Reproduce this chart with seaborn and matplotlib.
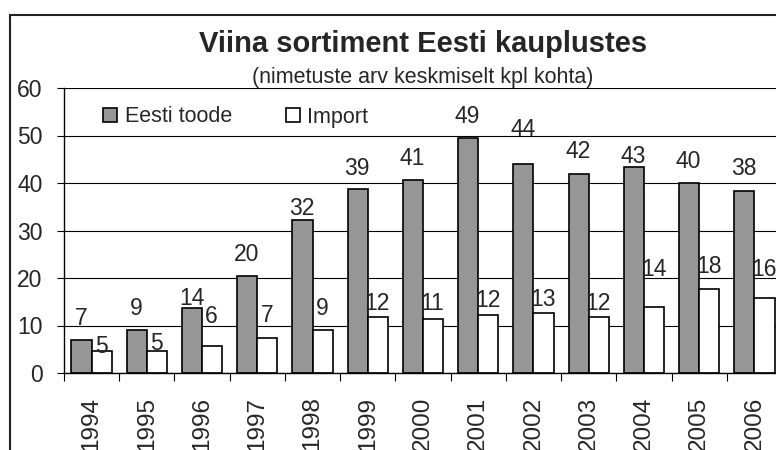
import pandas as pd
import matplotlib
matplotlib.use("Agg")
import matplotlib.pyplot as plt
import seaborn as sns
from matplotlib.patches import Rectangle

# -----------------------------
# Data
# -----------------------------
years = ["1994", "1995", "1996", "1997", "1998", "1999", "2000",
         "2001", "2002", "2003", "2004", "2005", "2006"]
eesti_toode = [7.0, 9.0, 13.7, 20.4, 32.2, 38.7, 40.6, 49.4, 44.1, 42.0, 43.4, 40.1, 38.4]
import_vals = [4.6, 4.6, 5.7, 7.4, 9.0, 11.7, 11.4, 12.3, 12.6, 11.7, 14.0, 17.6, 15.7]
series_names = ["Eesti toode", "Import"]

# label lift above bar tops (pixels), placed by hand in the original
lift_eesti = [15, 15, 3, 15, 5, 14, 15, 15, 28, 15, 4, 15, 16]
lift_import = [-2, 1, 23, 16, 15, 7, 9, 8, 7, 7, 30, 16, 22]

df = pd.DataFrame({
    "aasta": years * 2,
    "seeria": [series_names[0]] * len(years) + [series_names[1]] * len(years),
    "kpl": eesti_toode + import_vals,
})

# -----------------------------
# Style
# -----------------------------
sns.set_style("white")
plt.rcParams["font.family"] = ["Liberation Sans", "DejaVu Sans"]

fig = plt.figure(figsize=(7.76, 4.5), dpi=100)
ax = fig.add_axes([64 / 776, 77 / 450, 718 / 776, 285 / 450])

ax = sns.barplot(
    data=df, x="aasta", y="kpl", hue="seeria",
    hue_order=series_names,
    palette={"Eesti toode": "#969696", "Import": "white"},
    edgecolor="black", linewidth=1.2, width=0.73,
    saturation=1, ax=ax,
)

ax.set_xlim(-0.5, len(years) - 0.5)
ax.set_ylim(0, 60)
ax.set_yticks(range(0, 61, 10))
ax.set_xlabel("")
ax.set_ylabel("")

ax.yaxis.grid(True, color="black", linewidth=0.8)
ax.set_axisbelow(True)
for side in ["top", "right"]:
    ax.spines[side].set_visible(False)
for side in ["left", "bottom"]:
    ax.spines[side].set_color("black")
    ax.spines[side].set_linewidth(1.0)

ax.tick_params(axis="y", which="major", left=True, length=5, width=0.8,
               color="black", pad=10.5, labelsize=16.5)
ax.tick_params(axis="x", which="major", bottom=False, length=0,
               pad=17, labelsize=17.5, labelrotation=90)
ax.set_xticks([i - 0.5 for i in range(len(years) + 1)], minor=True)
ax.tick_params(axis="x", which="minor", bottom=True, length=6,
               width=0.8, color="black")

# data labels
for container, lifts in zip(ax.containers, [lift_eesti, lift_import]):
    for bar, lift in zip(container, lifts):
        h = bar.get_height()
        ax.annotate(f"{h:.0f}", (bar.get_x() + bar.get_width() / 2, h),
                    xytext=(-0.5, lift), textcoords="offset pixels",
                    ha="center", va="baseline", fontsize=16.5)

# legend
handles, labels = ax.get_legend_handles_labels()
ax.legend(handles, labels, loc="center left",
          bbox_to_anchor=(103 / 776, (450 - 117) / 450),
          bbox_transform=fig.transFigure, ncol=2, frameon=False,
          fontsize=15.5, handlelength=0.65, handleheight=0.65,
          handletextpad=0.35, columnspacing=2.5, borderpad=0,
          borderaxespad=0)

# titles
fig.text(423.5 / 776, (450 - 52) / 450, "Viina sortiment Eesti kauplustes",
         ha="center", va="baseline", fontsize=21, fontweight="bold")
fig.text(422.5 / 776, (450 - 83) / 450, "(nimetuste arv keskmiselt kpl kohta)",
         ha="center", va="baseline", fontsize=15.5)

# chart frame (cropped on right and bottom)
fig.patches.append(Rectangle((10 / 776, -0.2), 1.2, 0.2 + (450 - 15) / 450,
                             transform=fig.transFigure, fill=False,
                             edgecolor="#222222", linewidth=1.5))

fig.savefig("out.png", dpi=100)
plt.close(fig)
